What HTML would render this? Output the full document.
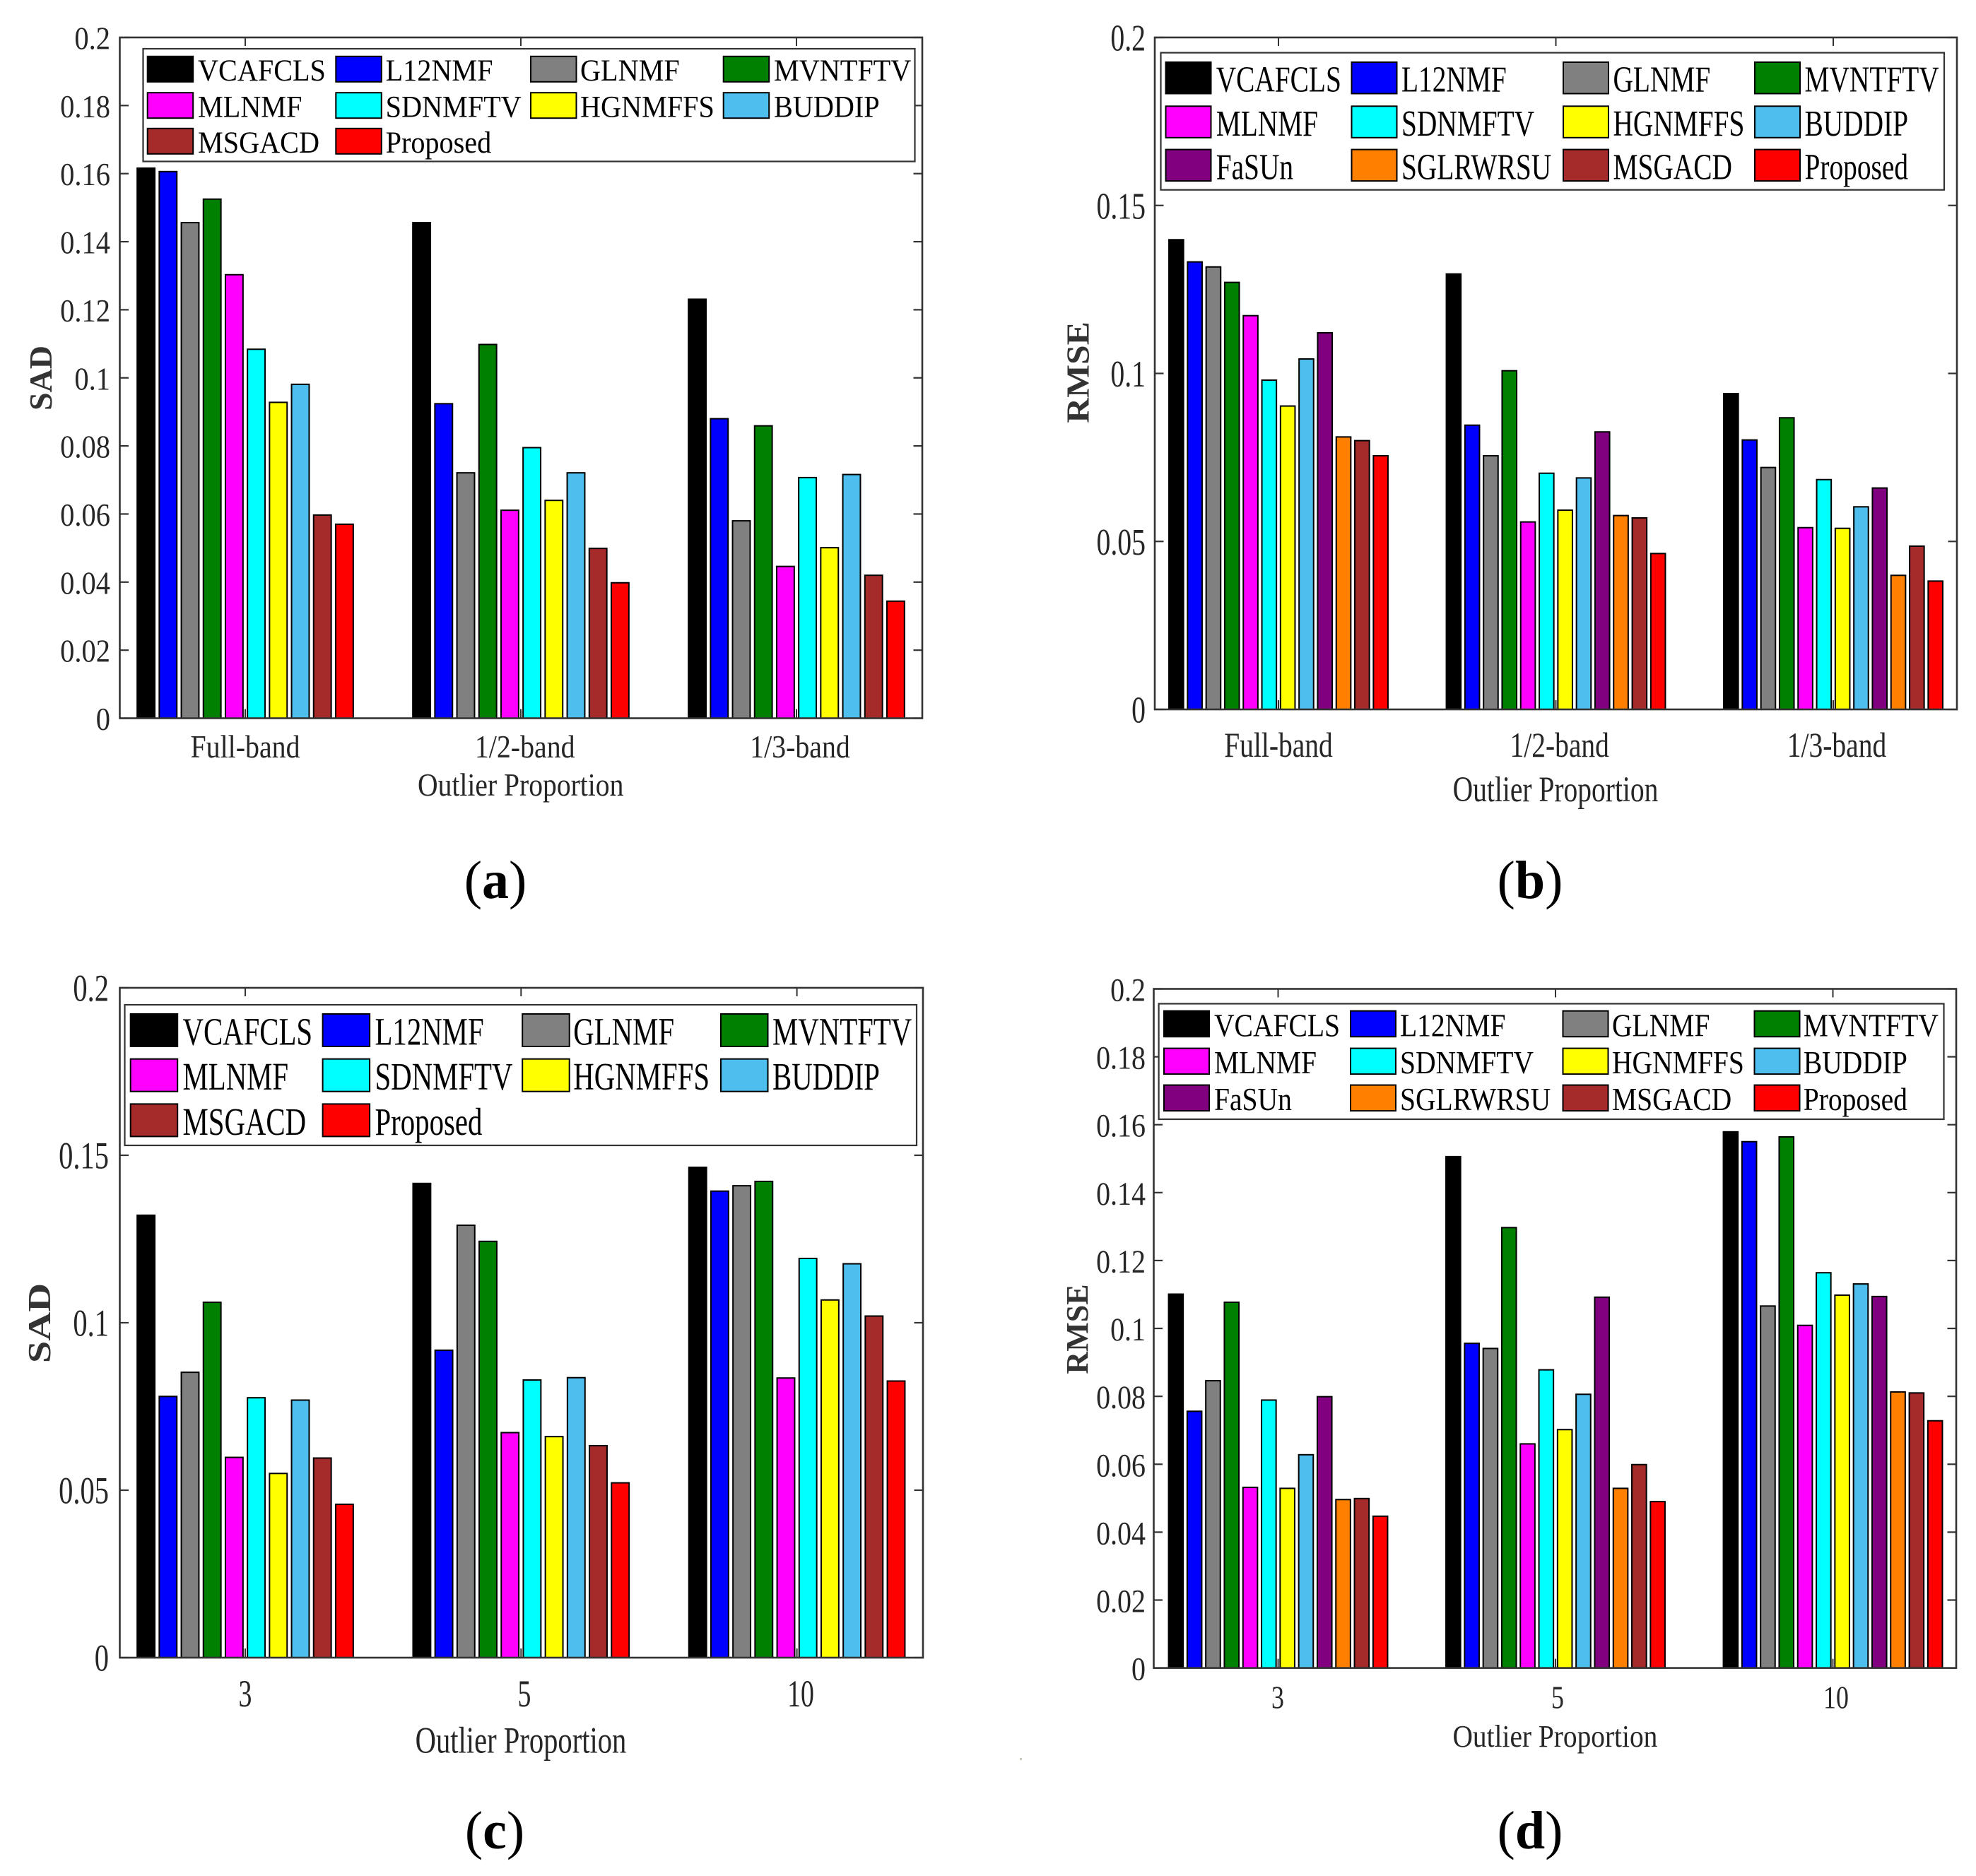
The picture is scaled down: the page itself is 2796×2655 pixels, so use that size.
<!DOCTYPE html>
<html lang="en">
<head>
<meta charset="utf-8">
<title>Outlier proportion comparison charts</title>
<style>
html,body{margin:0;padding:0;background:#fff;}
#figure{display:block;width:2796px;height:2655px;}
text{font-family:"Liberation Serif",serif;}
</style>
</head>
<body>
<svg id="figure" xmlns="http://www.w3.org/2000/svg" width="2796" height="2655" viewBox="0 0 2796 2655"></svg>
<script>
// ---- Shared data ----
const seriesNames10 = ['VCAFCLS','L12NMF','GLNMF','MVNTFTV','MLNMF','SDNMFTV','HGNMFFS','BUDDIP','MSGACD','Proposed'];
const seriesNames12 = ['VCAFCLS','L12NMF','GLNMF','MVNTFTV','MLNMF','SDNMFTV','HGNMFFS','BUDDIP','FaSUn','SGLRWRSU','MSGACD','Proposed'];
const seriesColors = {VCAFCLS:'#000000',L12NMF:'#0000ff',GLNMF:'#808080',MVNTFTV:'#008000',MLNMF:'#ff00ff',SDNMFTV:'#00ffff',HGNMFFS:'#ffff00',BUDDIP:'#4dbeee',FaSUn:'#800080',SGLRWRSU:'#ff8000',MSGACD:'#a52a2a',Proposed:'#ff0000'};
const bandCategories = ['Full-band','1/2-band','1/3-band'];
const numberCategories = ['3','5','10'];
const yTicksFine = [0,0.02,0.04,0.06,0.08,0.1,0.12,0.14,0.16,0.18,0.2];
const yTicksCoarse = [0,0.05,0.1,0.15,0.2];

// Panel (a)
const panelAFullBand = [0.1616,0.1606,0.1456,0.1525,0.1303,0.1084,0.0928,0.0981,0.0597,0.0570];
const panelAHalfBand = [0.1456,0.0924,0.0721,0.1098,0.0611,0.0795,0.0640,0.0721,0.0499,0.0398];
const panelAThirdBand = [0.1231,0.0880,0.0580,0.0859,0.0446,0.0707,0.0501,0.0716,0.0420,0.0344];
// Panel (b)
const panelBFullBand = [0.1398,0.1332,0.1317,0.1271,0.1172,0.0980,0.0903,0.1043,0.1121,0.0811,0.0800,0.0755];
const panelBHalfBand = [0.1296,0.0846,0.0755,0.1008,0.0558,0.0703,0.0593,0.0689,0.0826,0.0577,0.0570,0.0464];
const panelBThirdBand = [0.0940,0.0802,0.0720,0.0868,0.0541,0.0684,0.0539,0.0603,0.0659,0.0399,0.0486,0.0382];
// Panel (c)
const panelCThree = [0.1321,0.0780,0.0852,0.1061,0.0598,0.0776,0.0550,0.0769,0.0596,0.0458];
const panelCFive = [0.1416,0.0918,0.1291,0.1243,0.0672,0.0829,0.0660,0.0836,0.0633,0.0522];
const panelCTen = [0.1464,0.1393,0.1409,0.1422,0.0835,0.1192,0.1068,0.1176,0.1020,0.0826];
// Panel (d)
const panelDThree = [0.1101,0.0756,0.0846,0.1077,0.0532,0.0789,0.0529,0.0628,0.0799,0.0496,0.0499,0.0447];
const panelDFive = [0.1506,0.0956,0.0941,0.1297,0.0660,0.0878,0.0702,0.0806,0.1092,0.0529,0.0599,0.0490];
const panelDTen = [0.1579,0.1550,0.1066,0.1564,0.1009,0.1164,0.1098,0.1131,0.1094,0.0813,0.0810,0.0728];

// ---- Panel layout (geometry only) ----
const panels = [
 {id:'a',letter:'a',yName:'SAD',cats:bandCategories,names:seriesNames10,groups:[panelAFullBand,panelAHalfBand,panelAThirdBand],yTicks:yTicksFine,
  l:169.5,r:1305,t:53,b:1016.5,x0:347,dx:390,step:31.2,bw:26.9,
  tick:{fs:45,sx:.9,right:156,dy:16.5},
  xt:{fs:45,sx:.886,base:1072,cx:[347,742.7,1132]},
  xl:{fs:45,sx:.88,cx:736.7,base:1126},
  yl:{fs:46,sx:1.0,cx:58,cy:535},
  tagPos:{cx:701,base:1271},
  lg:{l:202.5,r:1294.5,t:69,b:228.5,cols:[207.7,474.3,750,1022.7],sw:66.5,rows:[78.8,130.2,180.8],sh:38,tx:[280,545.6,821,1095],fs:43,sx:.935}},
 {id:'b',letter:'b',yName:'RMSE',cats:bandCategories,names:seriesNames12,groups:[panelBFullBand,panelBHalfBand,panelBThirdBand],yTicks:yTicksCoarse,
  l:1634,r:2769,t:53,b:1004,x0:1809,dx:392.5,step:26.3,bw:22.6,
  tick:{fs:53,sx:.75,right:1621,dy:18.5},
  xt:{fs:50,sx:.79,base:1071,cx:[1809,2206.7,2599]},
  xl:{fs:51,sx:.775,cx:2201,base:1134},
  yl:{fs:46,sx:1.08,cx:1525.5,cy:527},
  tagPos:{cx:2165,base:1271},
  lg:{l:1642.5,r:2751,t:74.6,b:268.7,cols:[1648.5,1911.5,2211,2482],sw:66,rows:[87,149.3,210.6],sh:46.5,tx:[1720.7,1983,2282.5,2553.5],fs:52,sx:.757}},
 {id:'c',letter:'c',yName:'SAD',cats:numberCategories,names:seriesNames10,groups:[panelCThree,panelCFive,panelCTen],yTicks:yTicksCoarse,
  l:169.5,r:1306,t:1398,b:2346,x0:347,dx:390.3,step:31.2,bw:26.9,
  tick:{fs:54,sx:.75,right:154,dy:18.5},
  xt:{fs:54,sx:.7,base:2415,cx:[347,742,1133]},
  xl:{fs:53,sx:.766,cx:737,base:2480.5},
  yl:{fs:46,sx:1.23,cx:56,cy:1872.5},
  tagPos:{cx:700,base:2616},
  lg:{l:176.5,r:1297,t:1422,b:1621,cols:[183.7,455.6,738.2,1019],sw:68.5,rows:[1434,1497.7,1561.4],sh:48,tx:[258.5,530.5,811.3,1093],fs:55,sx:.742}},
 {id:'d',letter:'d',yName:'RMSE',cats:numberCategories,names:seriesNames12,groups:[panelDThree,panelDFive,panelDTen],yTicks:yTicksFine,
  l:1632.5,r:2768,t:1399.5,b:2360.6,x0:1808.5,dx:392.5,step:26.3,bw:22.6,
  tick:{fs:47,sx:.85,right:1621,dy:17},
  xt:{fs:46,sx:.78,base:2417.7,cx:[1808,2204,2598]},
  xl:{fs:44,sx:.895,cx:2200.4,base:2472},
  yl:{fs:44,sx:1.0,cx:1524.6,cy:1881},
  tagPos:{cx:2165,base:2616},
  lg:{l:1639.6,r:2750.5,t:1420.5,b:1584,cols:[1646,1910,2210.5,2481.5],sw:66,rows:[1429.7,1482.6,1534.6],sh:38.5,tx:[1718,1981,2281,2551.7],fs:46,sx:.86}}
];

const SVGNS = 'http://www.w3.org/2000/svg';
const svg = document.getElementById('figure');
const AXIS_COLOR = '#333333';

function make(parent, tag, attrs){
  const el = document.createElementNS(SVGNS, tag);
  for (const k in attrs) el.setAttribute(k, attrs[k]);
  parent.appendChild(el);
  return el;
}
function label(parent, str, x, y, fs, sx, anchor, color, weight){
  const el = make(parent, 'text', {
    transform:'translate(' + x + ' ' + y + ') scale(' + sx + ' 1)',
    'font-size':fs,'text-anchor':anchor,fill:color,'font-weight':weight || 'normal'
  });
  el.textContent = str;
  return el;
}

panels.forEach(function(p){
  const yScale = function(v){ return p.b - (v / 0.2) * (p.b - p.t); };
  const xScale = function(groupIndex, seriesIndex){
    return p.x0 + groupIndex * p.dx + (seriesIndex - (p.names.length - 1) / 2) * p.step;
  };
  const tickX = function(groupIndex){ return p.x0 + groupIndex * p.dx; };

  const g = make(svg, 'g', {});
  
  

  // Axis ticks (behind the bars)
  p.yTicks.forEach(function(v){
    const y = yScale(v);
    const left = make(g, 'line', {x1:p.l,x2:p.l + 12.5,y1:y,y2:y,stroke:AXIS_COLOR,'stroke-width':2.2});
    
    
    const right = make(g, 'line', {x1:p.r - 12.5,x2:p.r,y1:y,y2:y,stroke:AXIS_COLOR,'stroke-width':2.2});
    
    
    const txt = label(g, String(v), p.tick.right, y + p.tick.dy, p.tick.fs, p.tick.sx, 'end', '#262626');
    
    
  });
  p.cats.forEach(function(c, i){
    const x = tickX(i);
    const top = make(g, 'line', {x1:x,x2:x,y1:p.t,y2:p.t + 12,stroke:AXIS_COLOR,'stroke-width':2});
    
    
    const bot = make(g, 'line', {x1:x,x2:x,y1:p.b - 13,y2:p.b,stroke:AXIS_COLOR,'stroke-width':2});
    
    
    const txt = label(g, c, p.xt.cx[i], p.xt.base, p.xt.fs, p.xt.sx, 'middle', '#262626');
    
    
  });

  // Bars
  p.groups.forEach(function(values, gi){
    values.forEach(function(v, si){
      const name = p.names[si];
      const cx = xScale(gi, si);
      const y = yScale(v);
      const bar = make(g, 'rect', {
        x:cx - p.bw / 2 + 1, y:y, width:p.bw - 2, height:Math.max(0, p.b - y),
        fill:seriesColors[name], stroke:'#000', 'stroke-width':2
      });
      
      
    });
  });

  // Axes frame
  const frame = make(g, 'rect', {x:p.l,y:p.t,width:p.r - p.l,height:p.b - p.t,fill:'none',stroke:AXIS_COLOR,'stroke-width':2.6});
  
  

  // Axis titles
  const xTitle = label(g, 'Outlier Proportion', p.xl.cx, p.xl.base, p.xl.fs, p.xl.sx, 'middle', '#262626');
  
  
  const yTitle = make(g, 'text', {
    transform:'translate(' + (p.yl.cx + p.yl.fs * 0.33) + ' ' + p.yl.cy + ') rotate(-90) scale(' + p.yl.sx + ' 1)',
    'font-size':p.yl.fs,'text-anchor':'middle',fill:'#333333','font-weight':'bold'
  });
  yTitle.textContent = p.yName;
  
  

  // Legend
  const lg = make(g, 'g', {});
  
  
  const box = make(lg, 'rect', {x:p.lg.l,y:p.lg.t,width:p.lg.r - p.lg.l,height:p.lg.b - p.lg.t,fill:'#fff',stroke:AXIS_COLOR,'stroke-width':2.2});
  
  
  p.names.forEach(function(name, i){
    const col = i % 4;
    const row = Math.floor(i / 4);
    const entry = make(lg, 'g', {});
    
    
    make(entry, 'rect', {x:p.lg.cols[col] + 1,y:p.lg.rows[row] + 1,width:p.lg.sw - 2,height:p.lg.sh - 2,fill:seriesColors[name],stroke:'#000','stroke-width':2});
    label(entry, name, p.lg.tx[col], p.lg.rows[row] + p.lg.sh / 2 + p.lg.fs * 0.345 + 1.5, p.lg.fs, p.lg.sx, 'start', '#000');
  });

  // Panel tag: thin parentheses around a bold letter
  const tag = make(svg, 'text', {
    x:p.tagPos.cx, y:p.tagPos.base, 'font-size':76, 'text-anchor':'middle', fill:'#000'
  });
  
  
  const open = make(tag, 'tspan', {});
  open.textContent = '(';
  const letter = make(tag, 'tspan', {'font-weight':'bold'});
  letter.textContent = p.letter;
  const close = make(tag, 'tspan', {});
  close.textContent = ')';
});

const speck = make(svg, 'rect', {x:1443,y:2488,width:3,height:3,fill:'#c9c9c0'});


</script>
</body>
</html>
